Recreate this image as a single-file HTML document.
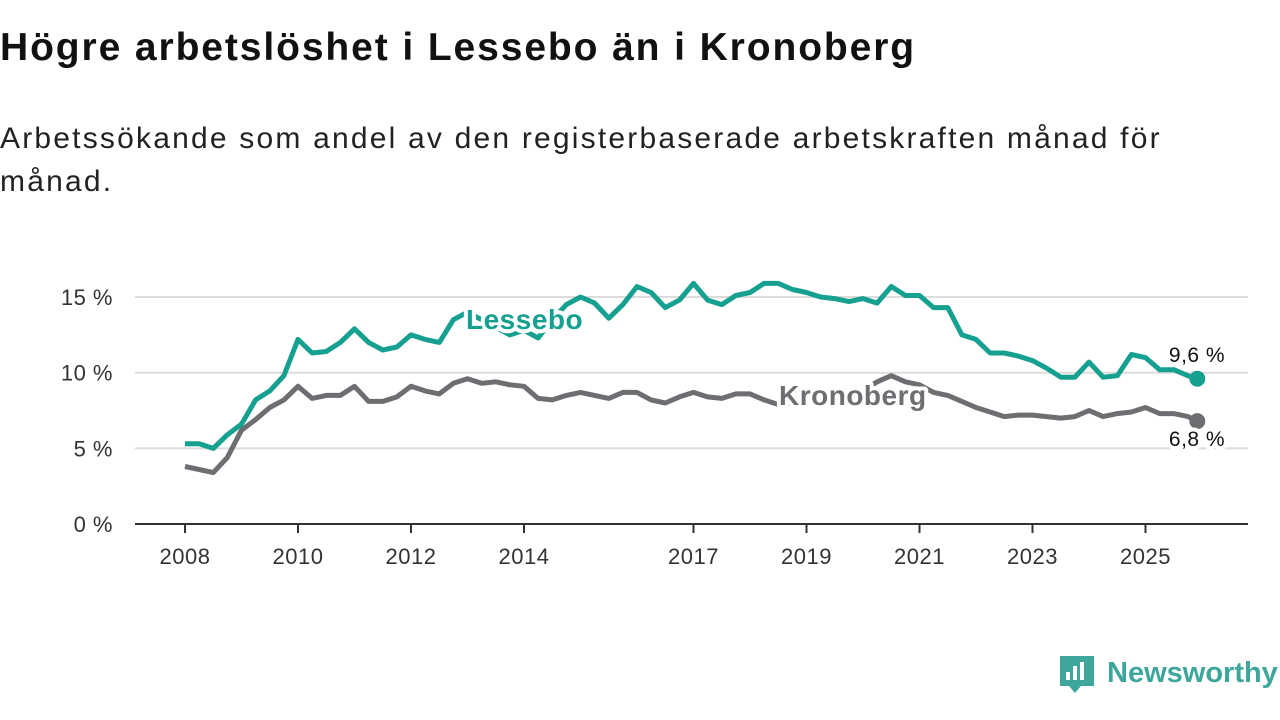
<!DOCTYPE html>
<html><head><meta charset="utf-8"><style>
body{margin:0;width:1280px;height:720px;background:#fff;overflow:hidden;font-family:"Liberation Sans",sans-serif;}
#title{position:absolute;left:0;top:26px;font-size:39px;font-weight:bold;color:#111;margin:0;letter-spacing:1.9px;}
#sub{position:absolute;left:0;top:117px;font-size:30px;line-height:43px;color:#222;letter-spacing:2.2px;}
svg{position:absolute;left:0;top:0;}
</style></head><body>
<h1 id="title">Högre arbetslöshet i Lessebo än i Kronoberg</h1>
<div id="sub">Arbetssökande som andel av den registerbaserade arbetskraften månad för<br>månad.</div>
<svg id="chart" width="1280" height="720"></svg>
<script>
const yTicks=[0,5,10,15];
const yTickLabels=["0 %","5 %","10 %","15 %"];
const xTicks=[2008,2010,2012,2014,2017,2019,2021,2023,2025];
const times=[2008,2008.25,2008.5,2008.75,2009,2009.25,2009.5,2009.75,2010,2010.25,2010.5,2010.75,2011,2011.25,2011.5,2011.75,2012,2012.25,2012.5,2012.75,2013,2013.25,2013.5,2013.75,2014,2014.25,2014.5,2014.75,2015,2015.25,2015.5,2015.75,2016,2016.25,2016.5,2016.75,2017,2017.25,2017.5,2017.75,2018,2018.25,2018.5,2018.75,2019,2019.25,2019.5,2019.75,2020,2020.25,2020.5,2020.75,2021,2021.25,2021.5,2021.75,2022,2022.25,2022.5,2022.75,2023,2023.25,2023.5,2023.75,2024,2024.25,2024.5,2024.75,2025,2025.25,2025.5,2025.75,2025.917];
const lessebo=[5.3,5.3,5.0,5.9,6.6,8.2,8.8,9.8,12.2,11.3,11.4,12.0,12.9,12.0,11.5,11.7,12.5,12.2,12.0,13.5,14.0,13.5,13.0,12.5,12.8,12.3,13.5,14.5,15.0,14.6,13.6,14.5,15.7,15.3,14.3,14.8,15.9,14.8,14.5,15.1,15.3,15.9,15.9,15.5,15.3,15.0,14.9,14.7,14.9,14.6,15.7,15.1,15.1,14.3,14.3,12.5,12.2,11.3,11.3,11.1,10.8,10.3,9.7,9.7,10.7,9.7,9.8,11.2,11.0,10.2,10.2,9.8,9.6];
const kronoberg=[3.8,3.6,3.4,4.4,6.2,6.9,7.7,8.2,9.1,8.3,8.5,8.5,9.1,8.1,8.1,8.4,9.1,8.8,8.6,9.3,9.6,9.3,9.4,9.2,9.1,8.3,8.2,8.5,8.7,8.5,8.3,8.7,8.7,8.2,8.0,8.4,8.7,8.4,8.3,8.6,8.6,8.2,7.9,8.0,8.2,8.3,8.5,8.6,8.8,9.4,9.8,9.4,9.2,8.7,8.5,8.1,7.7,7.4,7.1,7.2,7.2,7.1,7.0,7.1,7.5,7.1,7.3,7.4,7.7,7.3,7.3,7.1,6.8];
const endLabels=["9,6 %","6,8 %"];
const NS="http://www.w3.org/2000/svg";
const svg=document.getElementById('chart');
const X=t=>185+(t-2008)*56.5;
const Y=v=>524-v*15.13;
function mk(tag,attrs,parent){const e=document.createElementNS(NS,tag);for(const k in attrs)e.setAttribute(k,attrs[k]);(parent||svg).appendChild(e);return e;}
yTicks.forEach((v,i)=>{
  if(v>0){const g=mk('line',{x1:135,x2:1248,y1:Y(v),y2:Y(v),stroke:'#dcdcdc','stroke-width':2});
  
  }
  const t=mk('text',{x:113,y:Y(v)+8,'text-anchor':'end','font-size':22,fill:'#333','letter-spacing':0.5});t.textContent=yTickLabels[i];
  
  
});
const ax=mk('line',{x1:135,x2:1248,y1:524,y2:524,stroke:'#333','stroke-width':2});


xTicks.forEach(yr=>{
  const tk=mk('line',{x1:X(yr),x2:X(yr),y1:524,y2:533,stroke:'#333','stroke-width':2});
  
  
  const t=mk('text',{x:X(yr),y:564,'text-anchor':'middle','font-size':22,fill:'#333','letter-spacing':0.5});t.textContent=yr;
  
  
});
function line(data,color,name){
  const d=data.map((v,i)=>(i?'L':'M')+X(times[i]).toFixed(1)+','+Y(v).toFixed(1)).join('');
  const p=mk('path',{d:d,fill:'none',stroke:color,'stroke-width':5,'stroke-linejoin':'round'});
  
  
  const n=data.length-1;
  const c=mk('circle',{cx:X(times[n]),cy:Y(data[n]),r:8,fill:color});
  
  
}
line(kronoberg,'#6d6d72','kronoberg');
line(lessebo,'#16a08f','lessebo');
function lbl(txt,x,y,color,size,bold,name,anchor){
  const t=mk('text',{x:x,y:y,fill:color,'font-size':size,'font-weight':bold?'bold':'normal',stroke:'#fff','stroke-width':8,'paint-order':'stroke','stroke-linejoin':'round','text-anchor':anchor||'start','letter-spacing':0.5});
  t.textContent=txt;
  
  
}
lbl('Lessebo',466,329,'#16a08f',28,true,'lessebo-label');
lbl('Kronoberg',779,405,'#6d6d72',28,true,'kronoberg-label');
lbl(endLabels[0],1197,362,'#111',21,false,'lessebo-end-label','middle');
lbl(endLabels[1],1197,446,'#111',21,false,'kronoberg-end-label','middle');
const lg=mk('g',{});


mk('path',{d:'M1060,656 h34 v30 h-13 l-6,7 l-6,-7 h-9 z',fill:'#3fa69b'},lg);
mk('rect',{x:1066,y:672,width:4,height:8,fill:'#fff'},lg);
mk('rect',{x:1073,y:666,width:4,height:14,fill:'#fff'},lg);
mk('rect',{x:1080,y:662,width:4,height:18,fill:'#fff'},lg);
const lt=mk('text',{x:1107,y:682,'font-size':29,'font-weight':'bold',fill:'#3fa69b'},lg);
lt.textContent='Newsworthy';
</script>
</body></html>
